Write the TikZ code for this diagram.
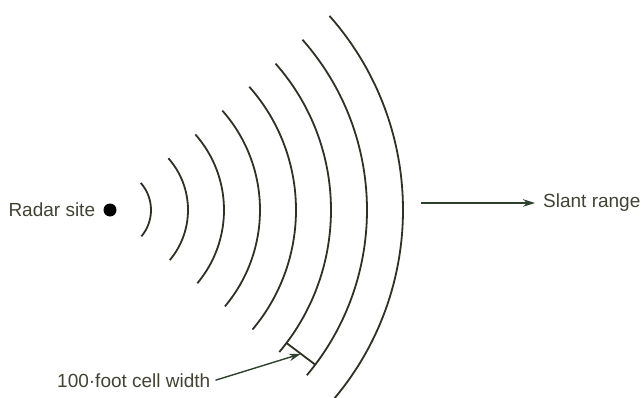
\documentclass[tikz,border=0pt]{standalone}
\usepackage{fontspec}
\setmainfont{Liberation Sans}
\usetikzlibrary{arrows.meta,positioning}
\definecolor{ink}{RGB}{48,48,36}
\definecolor{textink}{RGB}{66,66,52}
\definecolor{arrowink}{RGB}{46,64,46}
\begin{document}
\begin{tikzpicture}[x=1pt, y=1pt,
    >={Stealth[length=12pt, width=7.5pt]},
    font=\fontsize{19}{22}\selectfont,
    wave/.style={ink, line width=1.8pt},
    arr/.style={->, arrowink, line width=1.4pt},
    lab/.style={textink, inner sep=0pt}]
  \useasboundingbox (0,0) rectangle (642,397);

% ---------------- the radar site and its label
  \node[circle, fill=black, inner sep=0pt, minimum size=13pt] (site) at (110,187) {};
  \node[lab, left=8pt of site] (sitelab) {Radar site};

% ---------------- the pulse fronts, one arc per range cell
  \foreach \r in {41,78,114,150,186,221,257,293}
    \draw[wave] (site.center) ++(-40:\r pt) arc[start angle=-40, end angle=41.5, radius=\r pt];

% ---------------- slant range direction
  \coordinate (rangestart) at (421,194);
  \node[lab, anchor=west] (slant) at (543,194) {Slant range};
  \draw[arr] (rangestart) -- ([xshift=-8pt]slant.west);

% ---------------- one cell width, measured radially between two fronts
  \path (site.center) ++(-37:221pt) coordinate (cellin);
  \path (site.center) ++(-37:257pt) coordinate (cellout);
  \path (site.center) ++(-37:239pt) coordinate (cellmid);
  \draw[wave] (cellin) -- (cellout);
  \node[lab, anchor=base west] (cellw) at (57,10) {100·foot cell width};
  \draw[arr] ([xshift=5pt]cellw.east) -- (cellmid);
\end{tikzpicture}
\end{document}
